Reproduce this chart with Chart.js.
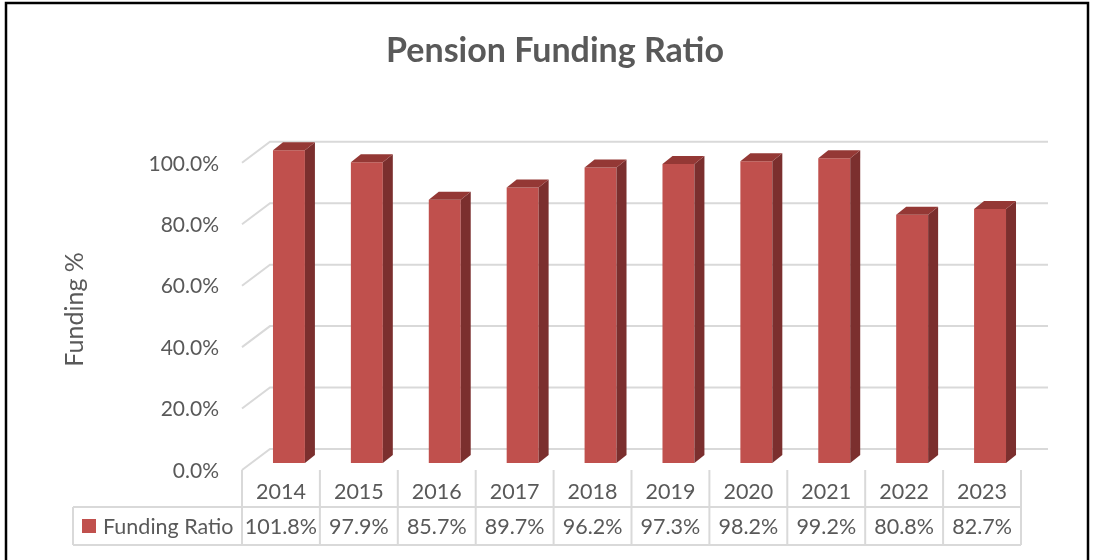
<!DOCTYPE html>
<html>
<head>
<meta charset="utf-8">
<script src="https://cdn.jsdelivr.net/npm/chart.js@4.4.1/dist/chart.umd.min.js"></script>
<style>
  html, body { margin: 0; padding: 0; background: #ffffff; }
  #wrap { width: 1094px; height: 560px; position: relative; }
  canvas { display: block; }
</style>
</head>
<body>
<div id="wrap"><canvas id="c" width="1094" height="560"></canvas></div>
<script>
// ---- data ----
const categories = ['2014', '2015', '2016', '2017', '2018', '2019', '2020', '2021', '2022', '2023'];
const fundingRatio = [101.8, 97.9, 85.7, 89.7, 96.2, 97.3, 98.2, 99.2, 80.8, 82.7];
const valueLabels = ['101.8%', '97.9%', '85.7%', '89.7%', '96.2%', '97.3%', '98.2%', '99.2%', '80.8%', '82.7%'];
const yTicks = [0, 20, 40, 60, 80, 100];
const seriesName = 'Funding Ratio';
const chartTitle = 'Pension Funding Ratio';
const yAxisTitle = 'Funding %';

// ---- style ----
const FONT = 'Lato, "Open Sans", sans-serif';
const TEXT = '#595959';
const GRID = '#d9d9d9';
const FRONT = '#C0504D';
const SIDE = '#7B2F2E';
const TOP = '#943835';
const DEPTH_X = 28, DEPTH_Y = 21;   // floor/wall depth
const BAR_DX = 10, BAR_DY = 8;      // bar depth
const BAR_SHIFT_X = 8, BAR_SHIFT_Y = 7; // bar front face offset from front plane

const threeD = {
  id: 'threeD',
  beforeDatasetsDraw(chart) {
    const ctx = chart.ctx;
    const ys = chart.scales.y, xs = chart.scales.x;
    const fl = xs.left - BAR_SHIFT_X;           // front-left x
    const bl = fl + DEPTH_X;                    // back-left x
    const br = xs.right + DEPTH_X - BAR_SHIFT_X - 1; // back-right x
    ctx.save();
    ctx.strokeStyle = GRID;
    ctx.lineWidth = 2;
    yTicks.forEach(v => {
      const yf = ys.getPixelForValue(v) + BAR_SHIFT_Y;
      const yb = yf - DEPTH_Y;
      ctx.beginPath();
      ctx.moveTo(fl, yf);
      ctx.lineTo(bl, yb);
      ctx.lineTo(br, yb);
      ctx.stroke();
    });
    ctx.restore();
  },
  afterDatasetsDraw(chart) {
    const ctx = chart.ctx;
    const meta = chart.getDatasetMeta(0);
    ctx.save();
    meta.data.forEach(bar => {
      const p = bar.getProps(['x', 'y', 'base', 'width'], true);
      const l = p.x - p.width / 2, r = p.x + p.width / 2;
      // side
      ctx.fillStyle = SIDE;
      ctx.beginPath();
      ctx.moveTo(r, p.y);
      ctx.lineTo(r + BAR_DX, p.y - BAR_DY);
      ctx.lineTo(r + BAR_DX, p.base - BAR_DY);
      ctx.lineTo(r, p.base);
      ctx.closePath();
      ctx.fill();
      // top
      ctx.fillStyle = TOP;
      ctx.beginPath();
      ctx.moveTo(l, p.y);
      ctx.lineTo(l + BAR_DX, p.y - BAR_DY);
      ctx.lineTo(r + BAR_DX, p.y - BAR_DY);
      ctx.lineTo(r, p.y);
      ctx.closePath();
      ctx.fill();
    });
    ctx.restore();
  },
  afterDraw(chart) {
    const ctx = chart.ctx;
    const xs = chart.scales.x;
    const colW = xs.width / categories.length;
    const x0 = xs.left - BAR_SHIFT_X;
    const top = 470, mid = 507, bot = 545, tableLeft = 73;
    ctx.save();
    ctx.strokeStyle = GRID;
    ctx.lineWidth = 2;
    ctx.beginPath();
    for (let i = 0; i <= categories.length; i++) {
      const x = x0 + i * colW;
      ctx.moveTo(x, top); ctx.lineTo(x, bot);
    }
    ctx.moveTo(tableLeft, mid); ctx.lineTo(x0 + categories.length * colW, mid);
    ctx.moveTo(tableLeft, bot); ctx.lineTo(x0 + categories.length * colW, bot);
    ctx.moveTo(tableLeft, mid); ctx.lineTo(tableLeft, bot);
    ctx.stroke();

    ctx.fillStyle = TEXT;
    ctx.font = '21.5px ' + FONT;
    ctx.textAlign = 'center';
    ctx.textBaseline = 'middle';
    categories.forEach((c, i) => {
      const cx = x0 + (i + 0.5) * colW;
      ctx.fillText(c, cx, 492);
      ctx.fillText(valueLabels[i], cx, 527);
    });
    // legend key
    ctx.fillStyle = FRONT;
    ctx.fillRect(82, 519, 14, 14);
    ctx.fillStyle = TEXT;
    ctx.textAlign = 'left';
    ctx.fillText(seriesName, 103, 527);

    // outer border
    ctx.strokeStyle = '#000000';
    ctx.lineWidth = 2.5;
    ctx.strokeRect(6, 3, 1082, 570);
    ctx.restore();
  }
};

new Chart(document.getElementById('c'), {
  type: 'bar',
  data: {
    labels: categories,
    datasets: [{
      label: seriesName,
      data: fundingRatio,
      backgroundColor: FRONT,
      borderWidth: 0,
      barPercentage: 0.41,
      categoryPercentage: 1.0,
      clip: false
    }]
  },
  plugins: [threeD],
  options: {
    responsive: false,
    devicePixelRatio: 1,
    animation: false,
    layout: { padding: { left: 16, right: 0, top: 0, bottom: 97 } },
    plugins: {
      legend: { display: false },
      tooltip: { enabled: false },
      title: {
        display: true,
        text: chartTitle,
        color: TEXT,
        font: { family: FONT, size: 34, weight: 'bold' },
        padding: { top: 31, bottom: 84 }
      }
    },
    scales: {
      x: {
        type: 'category',
        display: false,
        offset: true
      },
      y: {
        position: 'left',
        min: 0,
        max: 100,
        afterBuildTicks: s => { s.ticks = yTicks.map(v => ({ value: v })); },
        afterFit: s => { s.width = 234; },
        grid: { display: false, drawTicks: false },
        border: { display: false },
        ticks: {
          color: TEXT,
          font: { family: FONT, size: 21 },
          padding: 31,
          labelOffset: 8,
          callback: v => v.toFixed(1) + '%'
        },
        title: {
          display: true,
          text: yAxisTitle,
          color: TEXT,
          font: { family: FONT, size: 25 },
          padding: { top: 44, bottom: 0 }
        }
      },
      y2: {
        position: 'right',
        display: true,
        grid: { display: false, drawTicks: false },
        border: { display: false },
        ticks: { display: false },
        afterFit: s => { s.width = 65; }
      }
    }
  }
});
</script>
</body>
</html>
